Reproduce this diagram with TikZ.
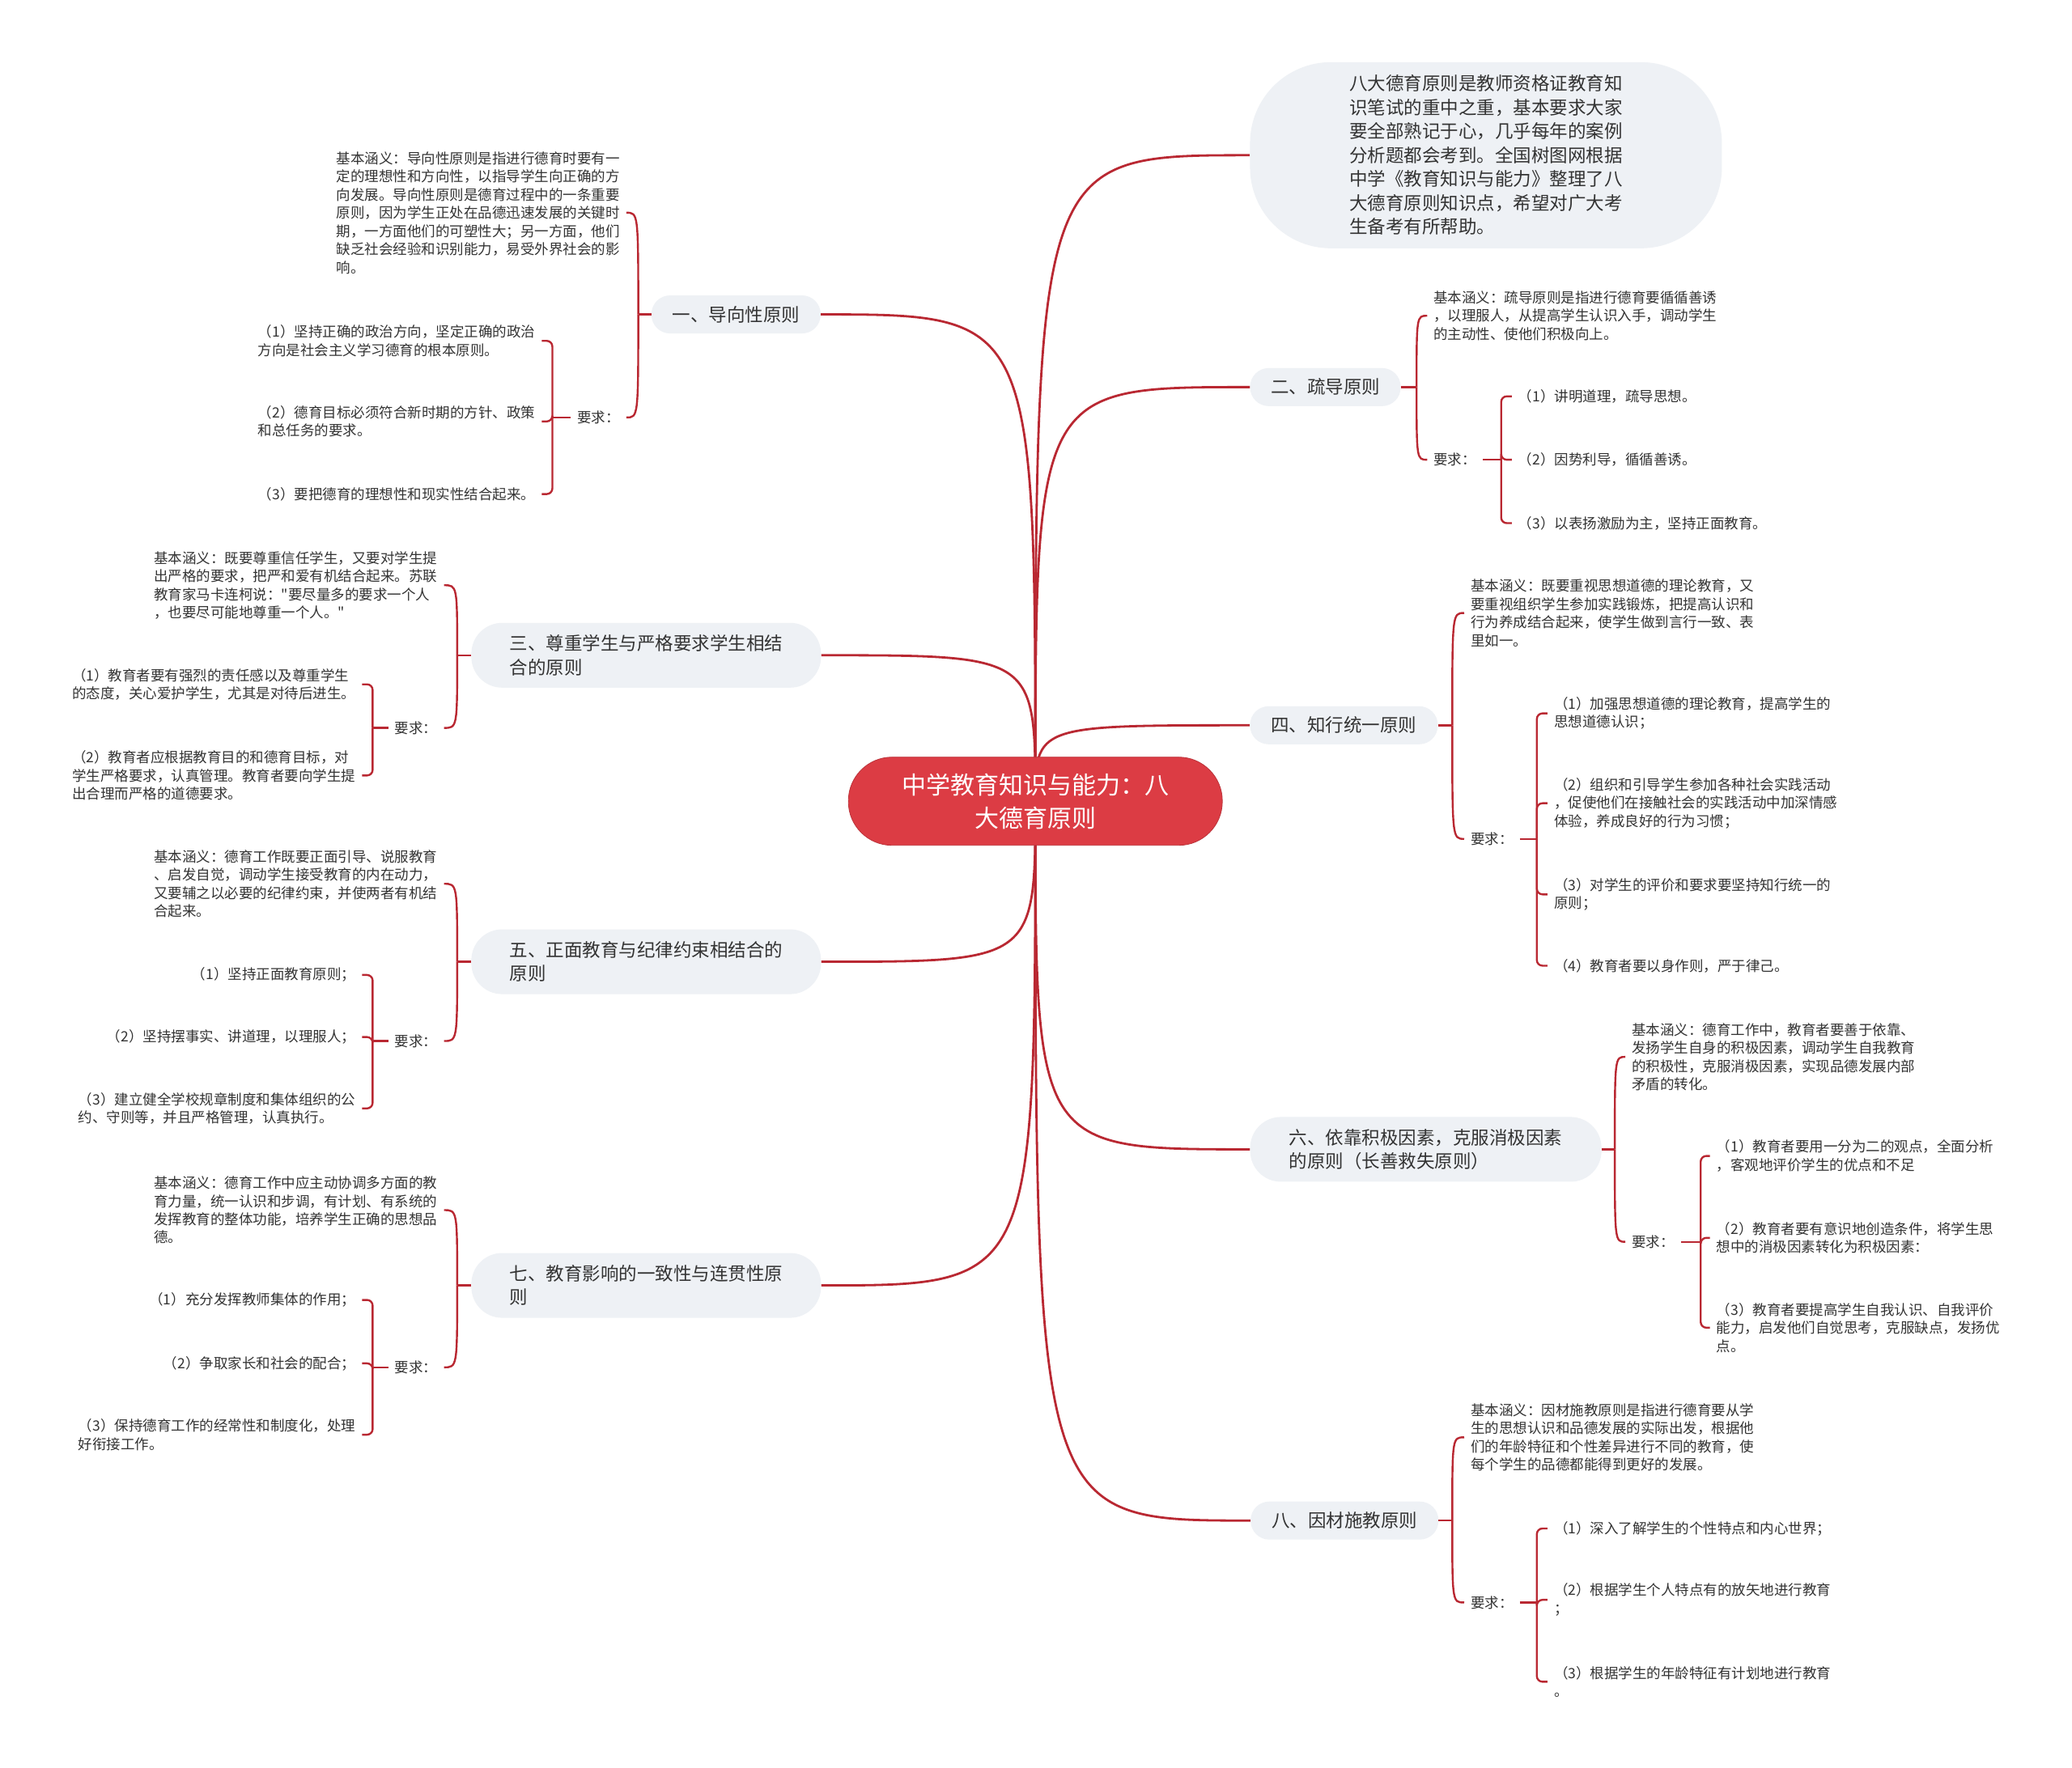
\documentclass[tikz,border=0pt]{standalone}
\usepackage{fontspec}
\newfontfamily\cjk{Noto Sans CJK SC}
\usetikzlibrary{backgrounds}

\definecolor{linkred}{RGB}{185,40,50}
\definecolor{rootred}{RGB}{220,60,68}
\definecolor{pillgray}{RGB}{238,241,245}
\definecolor{inkgray}{RGB}{51,51,51}

\tikzset{
  conn/.style={draw=linkred, line width=2.4pt},
  rootconn/.style={draw=linkred, line width=2.8pt},
  rootnode/.style={fill=rootred, draw=rootred!85!black, line width=0.8pt, rounded corners=54pt,
    minimum width=462pt, minimum height=109pt, text=white, align=center,
    font=\cjk\fontsize{30}{41}\selectfont},
  pill/.style={fill=pillgray, rounded corners=23pt, minimum height=47pt, align=left,
    text=inkgray, font=\cjk\fontsize{22.5}{29.5}\selectfont},
  twopill/.style={pill, rounded corners=38pt, minimum height=80pt, minimum width=432pt},
  leaf/.style={align=left, text=inkgray, inner xsep=8pt, inner ysep=2pt,
    font=\cjk\fontsize{17.5}{22.5}\selectfont},
}

\begin{document}
\begin{tikzpicture}[x=1.6327pt, y=-1.6327pt]
    \useasboundingbox (0,0) rectangle (1568,1338);

    % centre and main branches
    \node[rootnode] (root) at (783.5,606.5) {中学教育知识与能力：八\\大德育原则};
    \node[pill, minimum width=583pt, minimum height=230pt, rounded corners=100pt] (intro) at (1124.5,117.5)
        {八大德育原则是教师资格证教育知\\识笔试的重中之重，基本要求大家\\要全部熟记于心，几乎每年的案例\\分析题都会考到。全国树图网根据\\中学《教育知识与能力》整理了八\\大德育原则知识点，希望对广大考\\生备考有所帮助。};
    \node[pill, minimum width=209pt] (b1) at (557,238) {一、导向性原则};
    \node[pill, minimum width=186pt] (b2) at (1003,293) {二、疏导原则};
    \node[twopill] (b3) at (489,496) {三、尊重学生与严格要求学生相结\\合的原则};
    \node[pill, minimum width=232pt] (b4) at (1017,549) {四、知行统一原则};
    \node[twopill] (b5) at (489,728) {五、正面教育与纪律约束相结合的\\原则};
    \node[twopill, minimum width=434pt] (b6) at (1079,870) {六、依靠积极因素，克服消极因素\\的原则（长善救失原则）};
    \node[twopill] (b7) at (489,973) {七、教育影响的一致性与连贯性原\\则};
    \node[pill, minimum width=232pt] (b8) at (1017.5,1151) {八、因材施教原则};

    % branch 1
    \node[leaf, anchor=east] (d1) at (474,161) {基本涵义：导向性原则是指进行德育时要有一\\定的理想性和方向性，以指导学生向正确的方\\向发展。导向性原则是德育过程中的一条重要\\原则，因为学生正处在品德迅速发展的关键时\\期，一方面他们的可塑性大；另一方面，他们\\缺乏社会经验和识别能力，易受外界社会的影\\响。};
    \node[leaf, anchor=east] (r1) at (474,316) {要求：};
    \node[leaf, anchor=east] (i11) at (410,258) {（1）坚持正确的政治方向，坚定正确的政治\\方向是社会主义学习德育的根本原则。};
    \node[leaf, anchor=east] (i12) at (410,319) {（2）德育目标必须符合新时期的方针、政策\\和总任务的要求。};
    \node[leaf, anchor=east] (i13) at (410,374) {（3）要把德育的理想性和现实性结合起来。};

    % branch 3
    \node[leaf, anchor=east] (d3) at (336,443) {基本涵义：既要尊重信任学生，又要对学生提\\出严格的要求，把严和爱有机结合起来。苏联\\教育家马卡连柯说："要尽量多的要求一个人\\，也要尽可能地尊重一个人。"};
    \node[leaf, anchor=east] (r3) at (336,551) {要求：};
    \node[leaf, anchor=east] (i31) at (274,518) {（1）教育者要有强烈的责任感以及尊重学生\\的态度，关心爱护学生，尤其是对待后进生。};
    \node[leaf, anchor=east] (i32) at (274,587) {（2）教育者应根据教育目的和德育目标，对\\学生严格要求，认真管理。教育者要向学生提\\出合理而严格的道德要求。};

    % branch 5
    \node[leaf, anchor=east] (d5) at (336,669) {基本涵义：德育工作既要正面引导、说服教育\\、启发自觉，调动学生接受教育的内在动力，\\又要辅之以必要的纪律约束，并使两者有机结\\合起来。};
    \node[leaf, anchor=east] (r5) at (336,788) {要求：};
    \node[leaf, anchor=east] (i51) at (274,738) {（1）坚持正面教育原则；};
    \node[leaf, anchor=east] (i52) at (274,785) {（2）坚持摆事实、讲道理，以理服人；};
    \node[leaf, anchor=east] (i53) at (274,839) {（3）建立健全学校规章制度和集体组织的公\\约、守则等，并且严格管理，认真执行。};

    % branch 7
    \node[leaf, anchor=east] (d7) at (336,916) {基本涵义：德育工作中应主动协调多方面的教\\育力量，统一认识和步调，有计划、有系统的\\发挥教育的整体功能，培养学生正确的思想品\\德。};
    \node[leaf, anchor=east] (r7) at (336,1035) {要求：};
    \node[leaf, anchor=east] (i71) at (274,984) {（1）充分发挥教师集体的作用；};
    \node[leaf, anchor=east] (i72) at (274,1032) {（2）争取家长和社会的配合；};
    \node[leaf, anchor=east] (i73) at (274,1086) {（3）保持德育工作的经常性和制度化，处理\\好衔接工作。};

    % branch 2
    \node[leaf, anchor=west] (d2) at (1080,239) {基本涵义：疏导原则是指进行德育要循循善诱\\，以理服人，从提高学生认识入手，调动学生\\的主动性、使他们积极向上。};
    \node[leaf, anchor=west] (r2) at (1080,348) {要求：};
    \node[leaf, anchor=west] (i21) at (1144,300) {（1）讲明道理，疏导思想。};
    \node[leaf, anchor=west] (i22) at (1144,348) {（2）因势利导，循循善诱。};
    \node[leaf, anchor=west] (i23) at (1144,396) {（3）以表扬激励为主，坚持正面教育。};

    % branch 4
    \node[leaf, anchor=west] (d4) at (1108,464) {基本涵义：既要重视思想道德的理论教育，又\\要重视组织学生参加实践锻炼，把提高认识和\\行为养成结合起来，使学生做到言行一致、表\\里如一。};
    \node[leaf, anchor=west] (r4) at (1108,635) {要求：};
    \node[leaf, anchor=west] (i41) at (1171,540) {（1）加强思想道德的理论教育，提高学生的\\思想道德认识；};
    \node[leaf, anchor=west] (i42) at (1171,608) {（2）组织和引导学生参加各种社会实践活动\\，促使他们在接触社会的实践活动中加深情感\\体验，养成良好的行为习惯；};
    \node[leaf, anchor=west] (i43) at (1171,677) {（3）对学生的评价和要求要坚持知行统一的\\原则；};
    \node[leaf, anchor=west] (i44) at (1171,731) {（4）教育者要以身作则，严于律己。};

    % branch 6
    \node[leaf, anchor=west] (d6) at (1230,800) {基本涵义：德育工作中，教育者要善于依靠、\\发扬学生自身的积极因素，调动学生自我教育\\的积极性，克服消极因素，实现品德发展内部\\矛盾的转化。};
    \node[leaf, anchor=west] (r6) at (1230,940) {要求：};
    \node[leaf, anchor=west] (i61) at (1294,875) {（1）教育者要用一分为二的观点，全面分析\\，客观地评价学生的优点和不足};
    \node[leaf, anchor=west] (i62) at (1294,937) {（2）教育者要有意识地创造条件，将学生思\\想中的消极因素转化为积极因素：};
    \node[leaf, anchor=west] (i63) at (1294,1005) {（3）教育者要提高学生自我认识、自我评价\\能力，启发他们自觉思考，克服缺点，发扬优\\点。};

    % branch 8
    \node[leaf, anchor=west] (d8) at (1108,1088) {基本涵义：因材施教原则是指进行德育要从学\\生的思想认识和品德发展的实际出发，根据他\\们的年龄特征和个性差异进行不同的教育，使\\每个学生的品德都能得到更好的发展。};
    \node[leaf, anchor=west] (r8) at (1108,1213) {要求：};
    \node[leaf, anchor=west] (i81) at (1171,1157) {（1）深入了解学生的个性特点和内心世界；};
    \node[leaf, anchor=west] (i82) at (1171,1211) {（2）根据学生个人特点有的放矢地进行教育\\；};
    \node[leaf, anchor=west] (i83) at (1171,1273) {（3）根据学生的年龄特征有计划地进行教育\\。};

    % bracket spines
    \coordinate (s1) at (483,238);
    \coordinate (s3) at (346,496);
    \coordinate (s5) at (346,728);
    \coordinate (s7) at (346,973);
    \coordinate (s2) at (1072,293);
    \coordinate (s4) at (1099,549);
    \coordinate (s6) at (1222,870);
    \coordinate (s8) at (1099,1151);
    \coordinate (t1) at (418,316);
    \coordinate (t3) at (282,551);
    \coordinate (t5) at (282,788);
    \coordinate (t7) at (282,1035);
    \coordinate (t2) at (1136,348);
    \coordinate (t4) at (1163,635);
    \coordinate (t6) at (1287,940);
    \coordinate (t8) at (1163,1213);

    \begin{scope}[on background layer]
        \fill[white] (0,0) rectangle (1568,1338);
        \foreach \b in {b1,b3,b5,b7}
            \draw[rootconn] (root.center) .. controls (root.center |- \b.east) .. (\b.east);
        \foreach \b in {intro,b2,b4,b6,b8}
            \draw[rootconn] (root.center) .. controls (root.center |- \b.west) .. (\b.west);
    \end{scope}

    % left side
    \foreach \b/\s/\d/\r/\t in {b1/s1/d1/r1/t1, b3/s3/d3/r3/t3, b5/s5/d5/r5/t5, b7/s7/d7/r7/t7} {
        \draw[conn] (\b.west) -- (\s);
        \draw[conn] (\s) .. controls (\s |- \d.east) .. (\d.east);
        \draw[conn] (\s) .. controls (\s |- \r.east) .. (\r.east);
        \draw[conn] (\r.west) -- (\t);
    }
    \foreach \t/\c in {t1/i11, t1/i12, t1/i13, t3/i31, t3/i32, t5/i51, t5/i52, t5/i53, t7/i71, t7/i72, t7/i73}
        \draw[conn, rounded corners=7pt] (\t) |- (\c.east);

    % right side
    \foreach \b/\s/\d/\r/\t in {b2/s2/d2/r2/t2, b4/s4/d4/r4/t4, b6/s6/d6/r6/t6, b8/s8/d8/r8/t8} {
        \draw[conn] (\b.east) -- (\s);
        \draw[conn] (\s) .. controls (\s |- \d.west) .. (\d.west);
        \draw[conn] (\s) .. controls (\s |- \r.west) .. (\r.west);
        \draw[conn] (\r.east) -- (\t);
    }
    \foreach \t/\c in {t2/i21, t2/i22, t2/i23, t4/i41, t4/i42, t4/i43, t4/i44, t6/i61, t6/i62, t6/i63, t8/i81, t8/i82, t8/i83}
        \draw[conn, rounded corners=7pt] (\t) |- (\c.west);
\end{tikzpicture}
\end{document}
